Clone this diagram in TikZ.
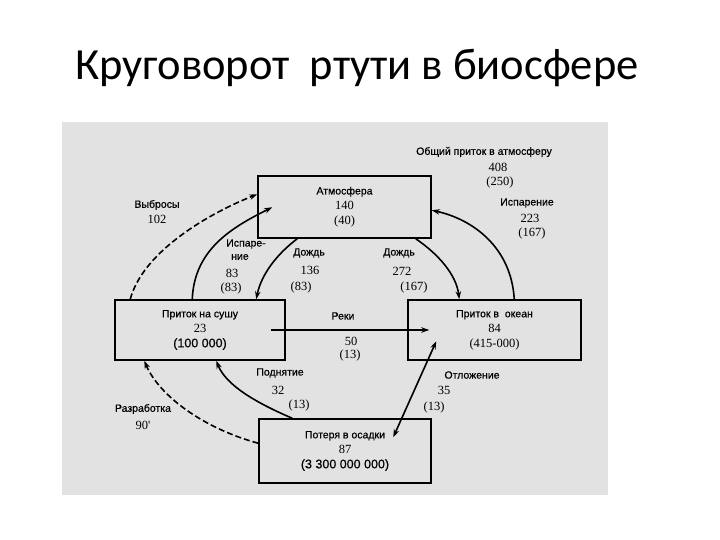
\documentclass[tikz,border=0pt]{standalone}
\usepackage{fontspec}
\setmainfont{Liberation Serif}
\newfontfamily\titlefont{Carlito}
\newfontfamily\labsans[FakeBold=0.6]{Liberation Sans}
\newfontfamily\labserif{Liberation Serif}
\usetikzlibrary{arrows.meta}
\newcommand{\lwd}{\labsans\fontsize{10.5}{15}\selectfont}
\newcommand{\lnum}{\labserif\fontsize{12.5}{15}\selectfont}
\newcommand{\lsnum}{\labsans\fontsize{12.5}{15}\selectfont}
\definecolor{scan}{RGB}{226,226,226}
\begin{document}
\begin{tikzpicture}[x=1pt,y=-1pt,
  box/.style={draw, line width=1.5pt, inner sep=0pt, align=center, font=\lwd},
  flow/.style={line width=1.6pt, -{Stealth[length=8pt,width=5.5pt]}},
  dflow/.style={flow, dash pattern=on 6pt off 3pt},
  wlab/.style={inner sep=0pt, font=\lwd},
  nlab/.style={inner sep=0pt, font=\lnum},
]
\useasboundingbox (0,0) rectangle (720,540);
\fill[scan] (62,122) rectangle (608,495);
\node[font=\titlefont\fontsize{44.5}{50}\selectfont] (title) at (357,68) {Круговорот\ \ ртути в биосфере};

% boxes
\node[box, minimum width=173pt, minimum height=62pt] (atm) at (344.5,207)
  {{\lwd Атмосфера}\\{\lnum 140}\\{\lnum (40)}};
\node[box, minimum width=170pt, minimum height=60pt] (land) at (200,330)
  {{\lwd Приток на сушу}\\{\lnum 23}\\{\lsnum (100 000)}};
\node[box, minimum width=173pt, minimum height=60pt] (ocean) at (494.5,330)
  {{\lwd Приток в\ \ океан}\\{\lnum 84}\\{\lnum (415-000)}};
\node[box, minimum width=172pt, minimum height=64pt] (sed) at (345,451)
  {{\lwd Потеря в осадки}\\{\lnum 87}\\{\lsnum (3 300 000 000)}};

% connectors
\draw[dflow] ([xshift=16pt]land.north west) .. controls +(12,-45) and +(-55,22) .. ([yshift=-19pt]atm.north west);
\draw[flow] ([xshift=78pt]land.north west) .. controls +(2,-50) and +(-40,20) .. ([xshift=15pt,yshift=-32pt]atm.north west);
\draw[flow] ([xshift=40pt]atm.south west) .. controls +(-20,15) and +(5,-25) .. ([xshift=142pt]land.north west);
\draw[flow] ([xshift=-16pt]atm.south east) .. controls +(22,15) and +(-3,-25) .. ([xshift=52pt]ocean.north west);
\draw[flow] ([xshift=107pt]ocean.north west) .. controls +(-3,-52) and +(41,9) .. ([yshift=-35pt]atm.north east);
\draw[flow] ([xshift=-15pt]land.east) -- ([xshift=22pt]ocean.west);
\draw[flow] ([xshift=34pt]sed.north west) .. controls +(-35,-15) and +(10,25) .. ([xshift=102pt]land.south west);
\draw[dflow] ([yshift=-25pt]sed.north west) .. controls +(-55,-15) and +(15,35) .. ([xshift=30pt]land.south west);
\draw[line width=1.6pt, {Stealth[length=8pt,width=5.5pt]}-{Stealth[length=8pt,width=5.5pt]}]
  ([xshift=29pt,yshift=-42pt]ocean.north west) -- ([xshift=135pt,yshift=-19pt]sed.north west);

% labels
\node[wlab] (gen1) at (484,152) {Общий приток в атмосферу};
\node[nlab] (gen2) at (498,167) {408};
\node[nlab] (gen3) at (500,182) {(250)};
\node[wlab] (ev1) at (527,203) {Испарение};
\node[nlab] (ev2) at (530,218) {223};
\node[nlab] (ev3) at (532,233) {(167)};
\node[wlab] (em1) at (157,205) {Выбросы};
\node[nlab] (em2) at (157,219) {102};
\node[wlab] (is1) at (246,244) {Испаре-};
\node[wlab] (is2) at (240,257) {ние};
\node[nlab] (is3) at (232,273) {83};
\node[nlab] (is4) at (231,288) {(83)};
\node[wlab] (ra1) at (309,253) {Дождь};
\node[nlab] (ra2) at (310,270) {136};
\node[nlab] (ra3) at (301,287) {(83)};
\node[wlab] (rb1) at (399,253) {Дождь};
\node[nlab] (rb2) at (402,271) {272};
\node[nlab] (rb3) at (414,287) {(167)};
\node[wlab] (riv1) at (343,316) {Реки};
\node[nlab] (riv2) at (351,341) {50};
\node[nlab] (riv3) at (350,355) {(13)};
\node[wlab] (up1) at (280,373) {Поднятие};
\node[nlab] (up2) at (278,390) {32};
\node[nlab] (up3) at (299,405) {(13)};
\node[wlab] (mi1) at (143,409) {Разработка};
\node[nlab] (mi2) at (143,425) {90'};
\node[wlab] (de1) at (472,375) {Отложение};
\node[nlab] (de2) at (444,390) {35};
\node[nlab] (de3) at (434,407) {(13)};
\end{tikzpicture}
\end{document}
